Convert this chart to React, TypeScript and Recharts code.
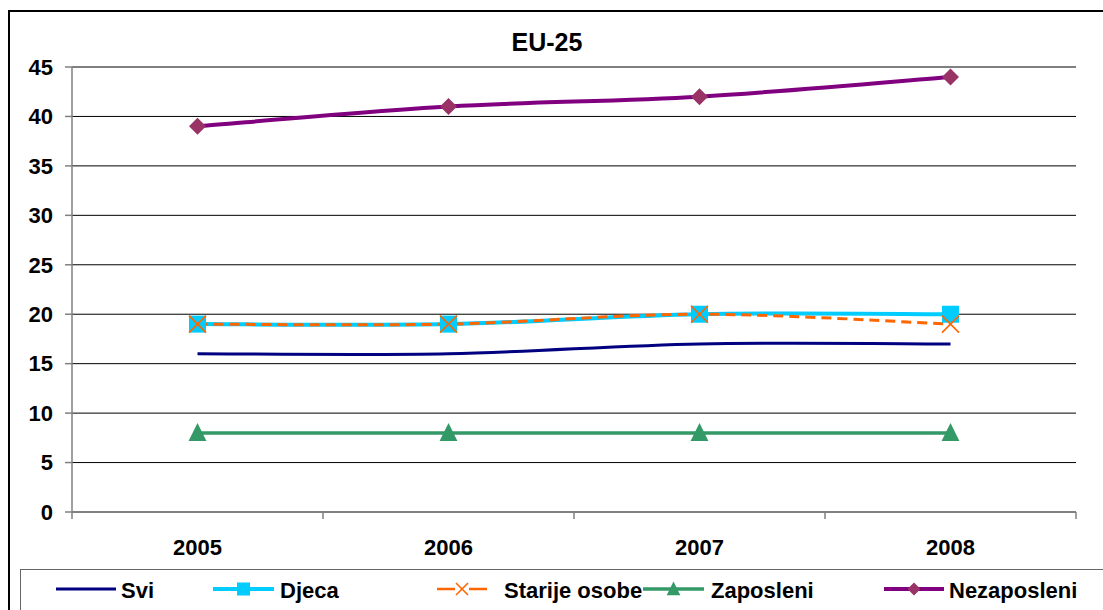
import React from 'react'
import { CartesianGrid, Legend, Line, LineChart, XAxis, YAxis } from 'recharts'

const years = ['2005', '2006', '2007', '2008']
const svi = [16, 16, 17, 17]
const djeca = [19, 19, 20, 20]
const starije = [19, 19, 20, 19]
const zaposleni = [8, 8, 8, 8]
const nezaposleni = [39, 41, 42, 44]
const yTicks = [0, 5, 10, 15, 20, 25, 30, 35, 40, 45]

const data = years.map((year, i) => ({
    year,
    svi: svi[i],
    djeca: djeca[i],
    starije: starije[i],
    zaposleni: zaposleni[i],
    nezaposleni: nezaposleni[i],
}))

const W = 1103
const H = 610
const PLOT_LEFT = 72
const PLOT_RIGHT = 27
const HALF_BAND = (W - PLOT_LEFT - PLOT_RIGHT) / years.length / 2
const FONT = '"Liberation Sans", Arial, sans-serif'

// excel style smoothing (catmull-rom as bezier)
const excelCurve = (context: any) => {
    let pts: number[][] = []
    return {
        areaStart() {},
        areaEnd() {},
        lineStart() {
            pts = []
        },
        point(x: number, y: number) {
            pts.push([+x, +y])
        },
        lineEnd() {
            if (!pts.length) return
            context.moveTo(pts[0][0], pts[0][1])
            for (let i = 0; i < pts.length - 1; i++) {
                const p0 = pts[i - 1] || pts[i]
                const p1 = pts[i]
                const p2 = pts[i + 1]
                const p3 = pts[i + 2] || p2
                context.bezierCurveTo(
                    p1[0] + (p2[0] - p0[0]) / 6,
                    p1[1] + (p2[1] - p0[1]) / 6,
                    p2[0] - (p3[0] - p1[0]) / 6,
                    p2[1] - (p3[1] - p1[1]) / 6,
                    p2[0],
                    p2[1]
                )
            }
        },
    }
}

const Square = ({ cx, cy, r = 8.5 }: any) => <rect x={cx - r} y={cy - r} width={r * 2} height={r * 2} fill="#00CCFF" />
const Cross = ({ cx, cy, r = 8.5 }: any) => (
    <g stroke="#FF6600" strokeWidth={1.6}>
        <line x1={cx - r} y1={cy - r} x2={cx + r} y2={cy + r} />
        <line x1={cx - r} y1={cy + r} x2={cx + r} y2={cy - r} />
    </g>
)
const Triangle = ({ cx, cy, r = 8.5 }: any) => (
    <path d={`M${cx},${cy - r * 1.15} L${cx + r * 1.05},${cy + r * 0.95} L${cx - r * 1.05},${cy + r * 0.95} Z`} fill="#339966" />
)
const Diamond = ({ cx, cy, r = 8.5 }: any) => (
    <path d={`M${cx},${cy - r} L${cx + r},${cy} L${cx},${cy + r} L${cx - r},${cy} Z`} fill="#993366" />
)

const series = [
    { key: 'svi', name: 'Svi', color: '#000080', width: 3, dash: undefined, Marker: null, lineX: 35, lineW: 60, textX: 100 },
    { key: 'djeca', name: 'Djeca', color: '#00CCFF', width: 4, dash: undefined, Marker: Square, lineX: 192, lineW: 61, textX: 259 },
    { key: 'starije', name: 'Starije osobe', color: '#FF6600', width: 3, dash: '10 6', Marker: Cross, lineX: 416, lineW: 50, textX: 483 },
    { key: 'zaposleni', name: 'Zaposleni', color: '#339966', width: 3.5, dash: undefined, Marker: Triangle, lineX: 622, lineW: 61, textX: 690 },
    { key: 'nezaposleni', name: 'Nezaposleni', color: '#800080', width: 4, dash: undefined, Marker: Diamond, lineX: 863, lineW: 60, textX: 928 },
]

const XTick = ({ x, y, payload, index }: any) => (
    <g>
        <line x1={x - HALF_BAND} x2={x - HALF_BAND} y1={y - 7} y2={y} stroke="#808080" strokeWidth={1.5} />
        {index === years.length - 1 && (
            <line x1={x + HALF_BAND} x2={x + HALF_BAND} y1={y - 7} y2={y} stroke="#808080" strokeWidth={1.5} />
        )}
        <text x={x} y={y + 36} textAnchor="middle" fill="#000" fontSize={22} fontWeight="bold" fontFamily={FONT}>
            {payload.value}
        </text>
    </g>
)

const LegendBox = () => (
    <svg width={1100} height={50} style={{ display: 'block' }}>
        {series.map((s) => {
            const cy = 19
            const M = s.Marker
            return (
                <g key={s.key}>
                    <line
                        x1={s.lineX}
                        x2={s.lineX + s.lineW}
                        y1={cy}
                        y2={cy}
                        stroke={s.color}
                        strokeWidth={s.dash ? 2.5 : s.width}
                        strokeDasharray={s.dash ? '18 14 18' : undefined}
                    />
                    {M && <M cx={s.lineX + s.lineW / 2} cy={cy} r={s.dash ? 6 : 6.5} />}
                    <text x={s.textX} y={cy + 9} fill="#000" fontSize={22} fontWeight="bold" fontFamily={FONT}>
                        {s.name}
                    </text>
                </g>
            )
        })}
    </svg>
)

const App = () => {
    return (
        <div style={{ position: 'absolute', left: 0, top: 0, width: W, height: H, overflow: 'hidden', background: '#fff' }}>
            <div style={{ position: 'absolute', left: 8, top: 10, width: 1200, height: 700, border: '2px solid #000' }} />
            <div
                style={{
                    position: 'absolute',
                    left: 447,
                    top: 28,
                    width: 200,
                    textAlign: 'center',
                    fontFamily: FONT,
                    fontWeight: 'bold',
                    fontSize: 25,
                    lineHeight: '28px',
                }}
            >
                EU-25
            </div>
            <div style={{ position: 'absolute', left: 0, top: 0 }}>
                <LineChart width={W} height={H} data={data} margin={{ top: 67, right: PLOT_RIGHT, bottom: 38, left: 0 }}>
                    <CartesianGrid vertical={false} stroke="#000" strokeWidth={1} />
                    <XAxis
                        dataKey="year"
                        scale="point"
                        padding={{ left: HALF_BAND, right: HALF_BAND }}
                        height={60}
                        tickLine={false}
                        tickSize={7}
                        tickMargin={0}
                        interval={0}
                        axisLine={{ stroke: '#808080', strokeWidth: 1.5 }}
                        tick={<XTick />}
                    />
                    <YAxis
                        type="number"
                        domain={[0, 45]}
                        ticks={yTicks}
                        interval={0}
                        width={PLOT_LEFT}
                        tickSize={7}
                        tickMargin={12}
                        axisLine={{ stroke: '#808080', strokeWidth: 1.5 }}
                        tickLine={{ stroke: '#808080', strokeWidth: 1.5 }}
                        tick={{ fill: '#000', fontSize: 22, fontWeight: 'bold', fontFamily: FONT }}
                    />
                    <Legend
                        layout="horizontal"
                        verticalAlign="middle"
                        align="center"
                        content={<LegendBox />}
                        wrapperStyle={{
                            left: 20,
                            top: 569,
                            width: 1100,
                            height: 50,
                            border: '1.5px solid #666',
                            background: '#fff',
                        }}
                    />
                    {series.map((s) => {
                        const M = s.Marker
                        return (
                            <Line
                                key={s.key}
                                dataKey={s.key}
                                name={s.name}
                                type={excelCurve as any}
                                stroke={s.color}
                                strokeWidth={s.width}
                                strokeDasharray={s.dash}
                                dot={M ? (p: any) => <M key={`${s.key}-${p.index}`} cx={p.cx} cy={p.cy} /> : false}
                                activeDot={false}
                                isAnimationActive={false}
                            />
                        )
                    })}
                </LineChart>
            </div>
        </div>
    )
}

export default App
